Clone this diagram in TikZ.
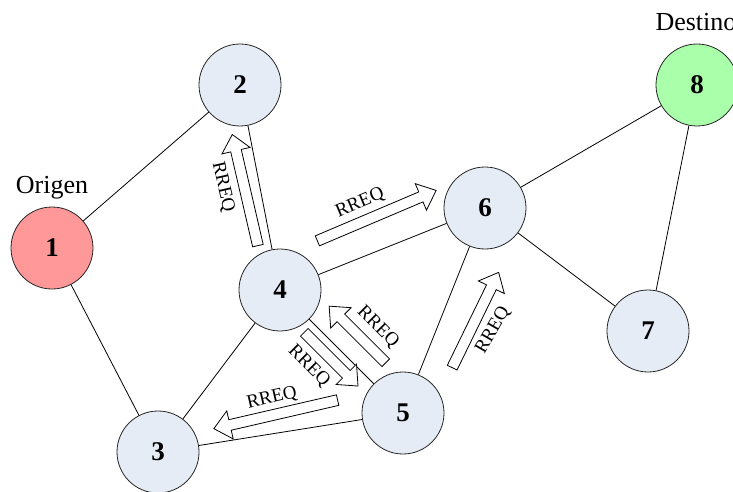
\documentclass[tikz,border=0pt]{standalone}
\usepackage{fontspec}
\setmainfont{Liberation Serif}
\usepackage{tikz}
\usetikzlibrary{shapes.arrows,positioning}
\definecolor{nodeblue}{RGB}{230,236,246}
\definecolor{srcred}{RGB}{255,153,153}
\definecolor{dstgreen}{RGB}{170,255,170}
\tikzstyle{vertex}=[draw=black!85,fill=nodeblue,circle,minimum size=82pt,inner sep=0pt,font=\fontsize{27}{30}\selectfont\bfseries]
\tikzstyle{rreq}=[draw,fill=white,single arrow,single arrow head extend=9pt,single arrow tip angle=82,inner xsep=0pt,inner ysep=5pt,anchor=tail]
\tikzstyle{msg}=[font=\fontsize{19}{22}\selectfont,inner sep=0pt]

\begin{document}
\begin{tikzpicture}[x=1pt,y=1pt,line width=0.8pt]
\useasboundingbox (0,0) rectangle (733,-492);
\draw (52, -248) node [vertex,fill=srcred] (n1) {1};
\draw (240, -85) node [vertex] (n2) {2};
\draw (158, -452) node [vertex] (n3) {3};
\draw (280, -290) node [vertex] (n4) {4};
\draw (403, -413) node [vertex] (n5) {5};
\draw (485, -208) node [vertex] (n6) {6};
\draw (648, -331) node [vertex] (n7) {7};
\draw (697, -85) node [vertex,fill=dstgreen] (n8) {8};
\draw (52, -188) node [font=\fontsize{26}{29}\selectfont] (origen) {Origen};
\draw (696, -22) node [font=\fontsize{26}{29}\selectfont] (destino) {Destino};
\draw (n1) -- (n2);
\draw (n1) -- (n3);
\draw (n2) -- (n4);
\draw (n4) -- (n6);
\draw (n4) -- (n3);
\draw (n4) -- (n5);
\draw (n3) -- (n5);
\draw (n5) -- (n6);
\draw (n6) -- (n8);
\draw (n6) -- (n7);
\draw (n7) -- (n8);
% RREQ messages
\node [rreq,minimum height=114pt,rotate=103] (m42) at (258, -246) {};
\node [msg,rotate=-77] (l42) at (223, -187) {RREQ};
\node [rreq,minimum height=129pt,rotate=23] (m46) at (317, -241) {};
\node [msg,rotate=23] (l46) at (360, -203) {RREQ};
\node [rreq,minimum height=80pt,rotate=135] (m54) at (386, -363) {};
\node [msg,rotate=-45] (l54) at (378, -327) {RREQ};
\node [rreq,minimum height=76pt,rotate=-45] (m45) at (304, -332) {};
\node [msg,rotate=-45] (l45) at (309, -366) {RREQ};
\node [rreq,minimum height=127pt,rotate=193] (m53) at (338, -400) {};
\node [msg,rotate=13] (l53) at (272, -398) {RREQ};
\node [rreq,minimum height=106pt,rotate=64] (m56) at (452, -368) {};
\node [msg,rotate=60] (l56) at (493, -330) {RREQ};
\end{tikzpicture}
\end{document}
